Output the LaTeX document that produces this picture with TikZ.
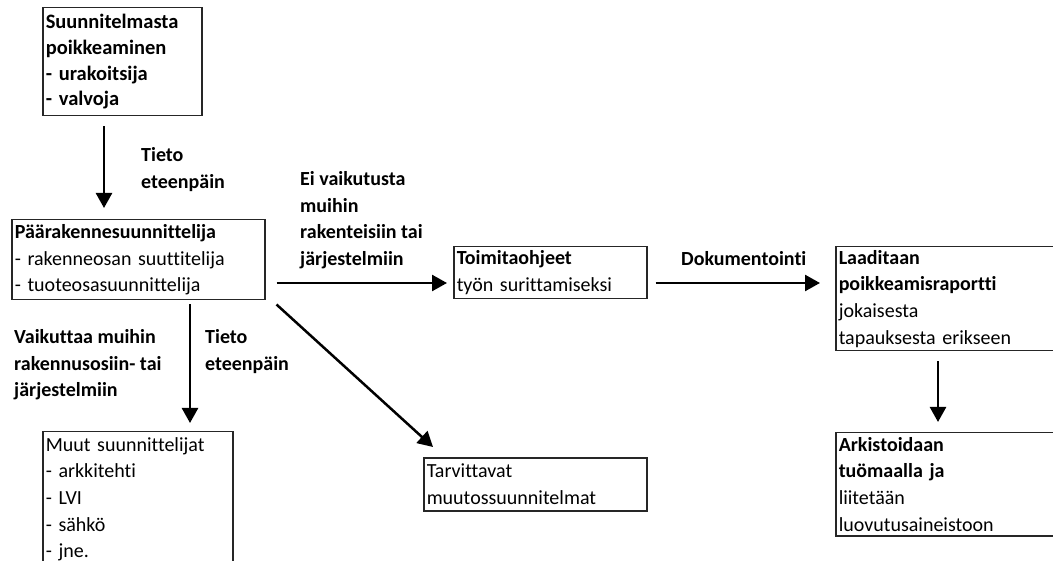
\documentclass[tikz,border=0pt]{standalone}
\usepackage{fontspec}
\setmainfont{Carlito}[Ligatures=NoCommon]
\usetikzlibrary{arrows.meta}
\begin{document}
\begin{tikzpicture}[x=1pt,y=-1pt,
  box/.style={draw=black!85, line width=1.5pt, anchor=north west, align=left,
    inner xsep=3pt, inner ysep=0pt, font=\fontsize{20}{26.6}\selectfont},
  lbl/.style={anchor=north west, align=left, inner sep=0pt,
    font=\fontsize{20}{26.8}\selectfont\bfseries},
  arr/.style={line width=2.5pt, -{Triangle[length=15pt,width=16pt]}}]
\useasboundingbox (0,0) rectangle (1053,561);
\clip (0,0) rectangle (1053,561);
% boxes
\node[box, text width=153pt, minimum height=108pt, font=\fontsize{20.5}{25.8}\selectfont\bfseries] (b1) at (42,7)
  {Suunnitelmasta\\poikkeaminen\\- urakoitsija\\- valvoja};
\node[box, text width=247pt, minimum height=80pt] (b2) at (11,219)
  {\textbf{Päärakennesuunnittelija}\\- rakenneosan suuttitelija\\- tuoteosasuunnittelija};
\node[box, text width=184pt, minimum height=135pt] (b3) at (42,431)
  {Muut suunnittelijat\\- arkkitehti\\- LVI\\- sähkö\\- jne.};
\node[box, text width=187pt, minimum height=52pt] (b4) at (453,246)
  {\textbf{Toimitaohjeet}\\työn surittamiseksi};
\node[box, text width=217pt, minimum height=53pt] (b5) at (423,457)
  {Tarvittavat\\muutossuunnitelmat};
\node[box, text width=224pt, minimum height=104pt] (b6) at (835,246)
  {\textbf{Laaditaan}\\\textbf{poikkeamisraportti}\\jokaisesta\\tapauksesta erikseen};
\node[box, text width=224pt, minimum height=103pt] (b7) at (835,432)
  {\textbf{Arkistoidaan}\\\textbf{tuömaalla ja}\\liitetään\\luovutusaineistoon};
% labels
\node[lbl] (l1) at (141,147) {Tieto\\eteenpäin};
\node[lbl] (l2) at (14,329) {Vaikuttaa muihin\\rakennusosiin- tai\\järjestelmiin};
\node[lbl] (l3) at (205,329) {Tieto\\eteenpäin};
\node[lbl] (l4) at (300,171) {Ei vaikutusta\\muihin\\rakenteisiin tai\\järjestelmiin};
\node[lbl] (l5) at (681,251) {Dokumentointi};
% arrows
\draw[arr, shorten <=10pt, shorten >=11pt] (b1.south -| 104,0) -- (b2.north -| 104,0);
\draw[arr, shorten <=4pt, shorten >=8pt] (b2.south -| 190,0) -- (b3.north -| 190,0);
\draw[arr, shorten <=11pt, shorten >=6pt] (b2.east |- 0,283) -- (b4.west |- 0,283);
\draw[arr] ([shift={(11,4)}]b2.south east) -- ([shift={(10,-10)}]b5.north west);
\draw[arr, shorten <=8pt, shorten >=15pt] (b4.east |- 0,283) -- (b6.west |- 0,283);
\draw[arr, shorten <=10pt, shorten >=10pt] (b6.south -| 938,0) -- (b7.north -| 938,0);
\end{tikzpicture}
\end{document}
